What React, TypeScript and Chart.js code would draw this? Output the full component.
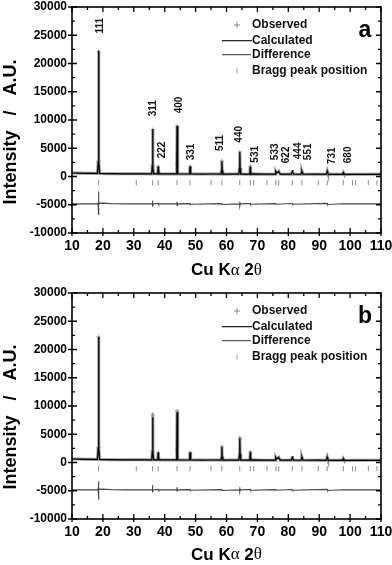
import React, { useEffect, useRef } from "react";
import { Chart, registerables } from "chart.js";
Chart.register(...registerables);

const SANS = '"Liberation Sans", Arial, Helvetica, sans-serif';
const SERIF = '"Liberation Serif", "Times New Roman", serif';

// ---- data (2θ in degrees, intensity in a.u.) ----
const braggPositions = [18.6, 30.8, 36.1, 37.9, 44.0, 48.2, 55.0, 58.5, 64.3, 67.7, 68.8, 73.1, 76.0, 76.9, 81.3, 84.4, 89.7, 92.6, 97.8, 100.8, 101.8, 105.9, 108.7];
const braggLevel = -1100;

const hklLabels = ["111", "311", "222", "400", "331", "511", "440", "531", "533", "622", "444", "551", "731", "680"];
const hklX = [19.0, 36.3, 39.2, 44.8, 48.6, 57.9, 64.0, 69.3, 75.9, 79.4, 83.3, 86.3, 94.2, 99.5];
const hklY = [26700, 12100, 4700, 12650, 4350, 5950, 7470, 3930, 4370, 3830, 4530, 4370, 3660, 3830];

const calcA: [number, number][] = [
  [10, 620], [12, 590], [14, 570], [16, 555], [18.25, 545], [18.48, 2500], [18.6, 22300], [18.72, 2500], [18.95, 530],
  [22, 500], [26, 480], [30, 470], [30.8, 490], [33, 460], [35.8, 460], [36.0, 1900], [36.1, 8400], [36.2, 1900], [36.4, 470],
  [37.65, 460], [37.8, 1100], [37.9, 1770], [38.0, 1100], [38.2, 460], [41, 450], [43.7, 450], [43.9, 2100], [44.0, 8970], [44.1, 2100], [44.3, 450],
  [47.95, 440], [48.1, 1100], [48.2, 1770], [48.3, 1100], [48.5, 440], [52, 430], [55, 440], [58.2, 430], [58.4, 1000], [58.5, 2700], [58.6, 1000], [58.8, 430],
  [62, 420], [64.0, 420], [64.2, 1400], [64.3, 4300], [64.4, 1400], [64.6, 420], [67.4, 420], [67.6, 900], [67.7, 1750], [67.8, 900], [68.0, 420], [68.8, 470], [72, 410],
  [75.7, 410], [75.88, 700], [76.0, 900], [76.2, 660], [76.5, 700], [76.9, 900], [77.1, 650], [77.4, 410], [81.0, 410], [81.2, 780], [81.3, 1100], [81.45, 780], [81.7, 410],
  [84.1, 400], [84.3, 700], [84.4, 950], [84.55, 700], [84.8, 400], [89.7, 420], [92.2, 390], [92.45, 680], [92.6, 950], [92.75, 680], [93.0, 390],
  [97.5, 380], [97.7, 560], [97.8, 700], [97.95, 560], [98.2, 380], [101, 390], [105, 370], [110, 380]
];
const obsA: [number, number][] = [
  [10, 640], [12, 600], [14, 565], [16, 560], [18.25, 540], [18.48, 2600], [18.6, 22100], [18.72, 2700], [18.95, 540],
  [22, 505], [26, 470], [30, 480], [30.8, 480], [33, 465], [35.8, 450], [36.0, 2000], [36.1, 8300], [36.2, 2000], [36.4, 480],
  [37.65, 470], [37.8, 1150], [37.9, 1800], [38.0, 1150], [38.2, 450], [41, 460], [43.7, 440], [43.9, 2200], [44.0, 8900], [44.1, 2200], [44.3, 460],
  [47.95, 450], [48.1, 1150], [48.2, 1800], [48.3, 1150], [48.5, 430], [52, 440], [55, 430], [58.2, 440], [58.4, 1050], [58.5, 2750], [58.6, 1050], [58.8, 420],
  [62, 430], [64.0, 430], [64.2, 1500], [64.3, 4350], [64.4, 1500], [64.6, 430], [67.4, 410], [67.6, 950], [67.7, 1800], [67.8, 950], [68.0, 430], [68.8, 460], [72, 420],
  [75.7, 400], [75.88, 720], [76.0, 920], [76.2, 680], [76.5, 710], [76.9, 920], [77.1, 660], [77.4, 400], [81.0, 420], [81.2, 800], [81.3, 1130], [81.45, 800], [81.7, 400],
  [84.1, 410], [84.3, 720], [84.4, 970], [84.55, 720], [84.8, 410], [89.7, 410], [92.2, 400], [92.45, 700], [92.6, 970], [92.75, 700], [93.0, 380],
  [97.5, 390], [97.7, 580], [97.8, 720], [97.95, 580], [98.2, 370], [101, 380], [105, 380], [109.6, 420], [110, 700]
];
const diffA: [number, number][] = [
  [10, -4850], [14, -4850], [18.3, -4850], [18.45, -4700], [18.55, -2650], [18.63, -6800], [18.72, -4500], [18.85, -4750], [20, -4720], [23, -4820],
  [28, -4850], [36.0, -4850], [36.07, -4250], [36.15, -5350], [36.25, -4850], [37.9, -4750], [38.0, -4950], [38.1, -4850], [43.9, -4850], [43.97, -4450], [44.05, -5150], [44.15, -4850],
  [48.2, -4800], [48.3, -4900], [58.5, -4800], [58.6, -4950], [64.2, -4850], [64.27, -4450], [64.35, -5200], [64.45, -4850], [67.7, -4780], [67.8, -4920],
  [76.0, -4800], [76.1, -4900], [81.3, -4780], [81.4, -4900], [92.55, -4750], [92.7, -4950], [97.8, -4820], [110, -4850]
];

const calcB: [number, number][] = [
  [10, 620], [12, 590], [14, 570], [16, 555], [18.25, 545], [18.48, 2500], [18.6, 22200], [18.72, 2500], [18.95, 530],
  [22, 500], [26, 480], [30, 470], [30.8, 490], [33, 460], [35.8, 460], [36.0, 1900], [36.1, 8000], [36.2, 1900], [36.4, 470],
  [37.65, 460], [37.8, 1100], [37.9, 1750], [38.0, 1100], [38.2, 460], [41, 450], [43.7, 450], [43.9, 2100], [44.0, 8900], [44.1, 2100], [44.3, 450],
  [47.95, 440], [48.1, 1100], [48.2, 1750], [48.3, 1100], [48.5, 440], [52, 430], [55, 440], [58.2, 430], [58.4, 1000], [58.5, 2750], [58.6, 1000], [58.8, 430],
  [62, 420], [64.0, 420], [64.2, 1400], [64.3, 4200], [64.4, 1400], [64.6, 420], [67.4, 420], [67.6, 900], [67.7, 1800], [67.8, 900], [68.0, 420], [68.8, 470], [72, 410],
  [75.7, 410], [75.88, 700], [76.0, 900], [76.2, 660], [76.5, 700], [76.9, 900], [77.1, 650], [77.4, 410], [81.0, 410], [81.2, 780], [81.3, 1100], [81.45, 780], [81.7, 410],
  [84.1, 400], [84.3, 700], [84.4, 950], [84.55, 700], [84.8, 400], [89.7, 420], [92.2, 390], [92.45, 680], [92.6, 950], [92.75, 680], [93.0, 390],
  [97.5, 380], [97.7, 560], [97.8, 700], [97.95, 560], [98.2, 380], [101, 390], [105, 370], [110, 380]
];
const obsB: [number, number][] = [
  [10, 640], [12, 600], [14, 565], [16, 560], [18.25, 540], [18.48, 2600], [18.6, 22250], [18.72, 2700], [18.95, 540],
  [22, 505], [26, 470], [30, 480], [30.8, 480], [33, 465], [35.8, 450], [36.0, 2000], [36.1, 8550], [36.2, 2000], [36.4, 480],
  [37.65, 470], [37.8, 1150], [37.9, 1800], [38.0, 1150], [38.2, 450], [41, 460], [43.7, 440], [43.9, 2200], [44.0, 9150], [44.1, 2200], [44.3, 460],
  [47.95, 450], [48.1, 1150], [48.2, 1800], [48.3, 1150], [48.5, 430], [52, 440], [55, 430], [58.2, 440], [58.4, 1050], [58.5, 2830], [58.6, 1050], [58.8, 420],
  [62, 430], [64.0, 430], [64.2, 1500], [64.3, 4430], [64.4, 1500], [64.6, 430], [67.4, 410], [67.6, 950], [67.7, 1890], [67.8, 950], [68.0, 430], [68.8, 460], [72, 420],
  [75.7, 400], [75.88, 720], [76.0, 920], [76.2, 680], [76.5, 710], [76.9, 920], [77.1, 660], [77.4, 400], [81.0, 420], [81.2, 800], [81.3, 1130], [81.45, 800], [81.7, 400],
  [84.1, 410], [84.3, 720], [84.4, 970], [84.55, 720], [84.8, 410], [89.7, 410], [92.2, 400], [92.45, 700], [92.6, 970], [92.75, 700], [93.0, 380],
  [97.5, 390], [97.7, 580], [97.8, 720], [97.95, 580], [98.2, 370], [101, 380], [105, 380], [109.6, 420], [110, 700]
];
const diffB: [number, number][] = [
  [10, -4850], [14, -4850], [18.3, -4850], [18.45, -4600], [18.55, -3300], [18.63, -6600], [18.72, -4500], [18.85, -4750], [20, -4720], [23, -4820],
  [28, -4850], [36.0, -4850], [36.07, -4000], [36.15, -5300], [36.25, -4850], [37.9, -4750], [38.0, -4950], [38.1, -4850], [43.9, -4850], [43.97, -4400], [44.05, -5100], [44.15, -4850],
  [48.2, -4800], [48.3, -4900], [58.5, -4800], [58.6, -4950], [64.2, -4850], [64.27, -4400], [64.35, -5150], [64.45, -4850], [67.7, -4780], [67.8, -4920],
  [76.0, -4800], [76.1, -4900], [81.3, -4780], [81.4, -4900], [92.55, -4750], [92.7, -4950], [97.8, -4820], [110, -4850]
];

const legendItems = ["Observed", "Calculated", "Difference", "Bragg peak position"];

const decorPlugin = {
  id: "decor",
  afterDatasetsDraw(chart: any, _args: any, opts: any) {
    const ctx = chart.ctx as CanvasRenderingContext2D;
    const { left, right, top, bottom } = chart.chartArea;
    const xs = chart.scales.x;
    const ys = chart.scales.y;
    ctx.save();
    // peak labels
    if (opts.showLabels) {
      ctx.fillStyle = "#111";
      ctx.font = `bold 10px ${SANS}`;
      ctx.textAlign = "center";
      ctx.textBaseline = "middle";
      hklLabels.forEach((t, i) => {
        const px = xs.getPixelForValue(hklX[i]);
        const py = ys.getPixelForValue(hklY[i]);
        ctx.save();
        ctx.translate(px, py);
        ctx.rotate(-Math.PI / 2);
        ctx.fillText(t, 0, 0);
        ctx.restore();
      });
    }
    // frame
    ctx.strokeStyle = "#000";
    ctx.lineWidth = 1.6;
    ctx.strokeRect(left, top, right - left, bottom - top);
    ctx.lineWidth = 1.3;
    ctx.beginPath();
    for (let v = 10; v <= 110; v += 5) {
      const px = xs.getPixelForValue(v);
      const major = v % 10 === 0;
      const len = major ? 5 : 3;
      ctx.moveTo(px, bottom + (major ? 3 : 0));
      ctx.lineTo(px, bottom - len);
      ctx.moveTo(px, top);
      ctx.lineTo(px, top + len);
    }
    for (let v = -10000; v <= 30000; v += 2500) {
      const py = ys.getPixelForValue(v);
      const major = v % 5000 === 0;
      const len = major ? 5 : 3;
      ctx.moveTo(left - (major ? 4 : 0), py);
      ctx.lineTo(left + len, py);
      ctx.moveTo(right, py);
      ctx.lineTo(right - len, py);
    }
    ctx.stroke();

    // legend
    const lx = left + 150;
    const tx = left + 180;
    const rowY = [top + 18, top + 33.7, top + 47.7, top + 64];
    ctx.font = `bold 12px ${SANS}`;
    ctx.fillStyle = "#111";
    ctx.textAlign = "left";
    ctx.textBaseline = "middle";
    legendItems.forEach((t, i) => ctx.fillText(t, tx, rowY[i]));
    ctx.strokeStyle = "#888";
    ctx.lineWidth = 1;
    ctx.beginPath();
    ctx.moveTo(lx + 15 - 3, rowY[0]);
    ctx.lineTo(lx + 15 + 3, rowY[0]);
    ctx.moveTo(lx + 15, rowY[0] - 3);
    ctx.lineTo(lx + 15, rowY[0] + 3);
    ctx.stroke();
    ctx.strokeStyle = "#000";
    ctx.lineWidth = 1.1;
    ctx.beginPath();
    ctx.moveTo(lx, rowY[1]);
    ctx.lineTo(lx + 30, rowY[1]);
    ctx.stroke();
    ctx.strokeStyle = "#333";
    ctx.lineWidth = 1;
    ctx.beginPath();
    ctx.moveTo(lx, rowY[2]);
    ctx.lineTo(lx + 29, rowY[2]);
    ctx.stroke();
    ctx.strokeStyle = "#999";
    ctx.beginPath();
    ctx.moveTo(lx + 15, rowY[3] - 2.5);
    ctx.lineTo(lx + 15, rowY[3] + 2.5);
    ctx.stroke();

    // panel letter
    ctx.fillStyle = "#000";
    ctx.font = `bold 23px ${SANS}`;
    ctx.textAlign = "center";
    ctx.textBaseline = "middle";
    ctx.fillText(opts.letter, right - 16, top + 24);

    // y title
    ctx.save();
    ctx.translate(11, opts.yTitleY);
    ctx.rotate(-Math.PI / 2);
    ctx.font = `bold 18px ${SANS}`;
    ctx.fillText("Intensity   /   A.U.", 0, 0);
    ctx.restore();

    // x title (mixed fonts)
    const parts = [
      { t: "Cu K", f: `bold 17px ${SANS}` },
      { t: "\u03b1", f: `17px ${SERIF}` },
      { t: " 2", f: `bold 17px ${SANS}` },
      { t: "\u03b8", f: `17px ${SERIF}` },
    ];
    let total = 0;
    parts.forEach((p) => { ctx.font = p.f; total += ctx.measureText(p.t).width; });
    let cx = (left + right) / 2 - total / 2;
    ctx.textAlign = "left";
    ctx.textBaseline = "middle";
    parts.forEach((p) => { ctx.font = p.f; ctx.fillText(p.t, cx, opts.xTitleY); cx += ctx.measureText(p.t).width; });
    ctx.restore();
  },
};

type PanelProps = {
  calc: [number, number][];
  obs: [number, number][];
  diff: [number, number][];
  letter: string;
  showLabels: boolean;
  height: number;
  top: number;
  xTitleY: number;
  yTitleY: number;
};

function Panel(props: PanelProps) {
  const ref = useRef<HTMLCanvasElement | null>(null);
  useEffect(() => {
    if (!ref.current) return;
    const plotBottom = 233;
    const chart = new Chart(ref.current, {
      type: "scatter",
      data: {
        datasets: [
          {
            label: "Calculated",
            data: props.calc.map(([x, y]) => ({ x, y })),
            showLine: true,
            borderColor: "#000",
            borderWidth: 1.2,
            pointRadius: 0,
          },
          {
            label: "Observed",
            data: props.obs.map(([x, y]) => ({ x, y })),
            showLine: true,
            borderColor: "rgba(120,120,120,0.8)",
            borderWidth: 3,
            pointStyle: "cross",
            pointRadius: (c: any) => (c.raw && c.raw.y > 1500 ? 2 : 0),
            pointBorderColor: "#999",
            pointBorderWidth: 1,
          },
          {
            label: "Difference",
            data: props.diff.map(([x, y]) => ({ x, y })),
            showLine: true,
            borderColor: "#444",
            borderWidth: 1.1,
            pointRadius: 0,
          },
          {
            label: "Bragg peak position",
            data: braggPositions.map((x) => ({ x, y: braggLevel })),
            showLine: false,
            pointStyle: "line",
            rotation: 90,
            pointRadius: 2.5,
            pointBorderColor: "#888",
            pointBorderWidth: 1,
          } as any,
        ],
      },
      options: {
        animation: false,
        responsive: false,
        devicePixelRatio: 1,
        layout: { padding: { left: 0, right: 11, top: 7, bottom: 0 } },
        plugins: {
          legend: { display: false },
          tooltip: { enabled: false },
          decor: { letter: props.letter, showLabels: props.showLabels, xTitleY: props.xTitleY, yTitleY: props.yTitleY },
        } as any,
        scales: {
          x: {
            type: "linear",
            min: 10,
            max: 110,
            grid: { display: false, drawTicks: false },
            border: { display: false },
            ticks: { stepSize: 10, padding: 5, color: "#000", font: { family: SANS, size: 14, weight: "bold" }, callback: (v: any) => String(v) },
            afterFit: (s: any) => { s.height = props.height - plotBottom; s.paddingLeft = 0; s.paddingRight = 0; },
          },
          y: {
            type: "linear",
            min: -10000,
            max: 30000,
            grid: { display: false, drawTicks: false },
            border: { display: false },
            ticks: { stepSize: 5000, padding: 5, color: "#000", font: { family: SANS, size: 12, weight: "bold" }, callback: (v: any) => String(v) },
            afterFit: (s: any) => { s.width = 72; s.paddingTop = 0; s.paddingBottom = 0; },
          },
        },
      } as any,
      plugins: [decorPlugin],
    });
    return () => chart.destroy();
  }, []);
  return (
    <canvas
      ref={ref}
      width={392}
      height={props.height}
      style={{ position: "absolute", left: 0, top: props.top, width: 392, height: props.height }}
    />
  );
}

export default function App() {
  return (
    <div style={{ position: "absolute", left: 0, top: 0, width: 392, height: 565, background: "#fff" }}>
      <Panel calc={calcA} obs={obsA} diff={diffA} letter="a" showLabels={true} height={286} top={0} xTitleY={270.5} yTitleY={132} />
      <Panel calc={calcB} obs={obsB} diff={diffB} letter="b" showLabels={false} height={279} top={286} xTitleY={269} yTitleY={131} />
    </div>
  );
}
